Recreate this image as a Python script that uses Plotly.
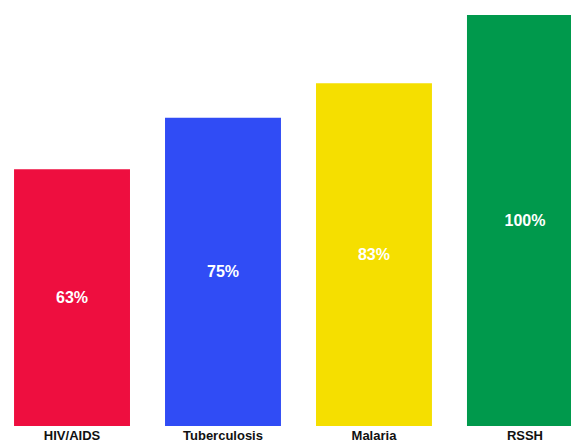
import plotly.graph_objects as go

categories = ["HIV/AIDS", "Tuberculosis", "Malaria", "RSSH"]
values = [62.5, 75, 83.4, 100]
labels = ["63%", "75%", "83%", "100%"]
colors = ["#EE0E3F", "#304CF5", "#F5DF00", "#00994C"]

fig = go.Figure(go.Bar(
    x=categories, y=values, text=labels,
    marker=dict(color=colors, line=dict(width=0)),
    textposition="inside", insidetextanchor="middle",
    textfont=dict(family="Liberation Sans, Arial", size=16, color="white", weight="bold"),
    textangle=0, hoverinfo="skip",
))
fig.update_layout(
    width=571, height=444,
    margin=dict(l=0, r=0, t=0, b=18),
    plot_bgcolor="white", paper_bgcolor="white",
    bargap=0.232, showlegend=False,
    uniformtext=dict(minsize=16, mode="show"),
)
fig.update_xaxes(range=[-0.477, 3.305], showgrid=False, zeroline=False, showline=False,
                 ticks="", tickfont=dict(family="Liberation Sans, Arial", size=13, color="#111", weight="bold"))
fig.update_yaxes(range=[0, 103.65], visible=False)
fig.write_html("out.html")
